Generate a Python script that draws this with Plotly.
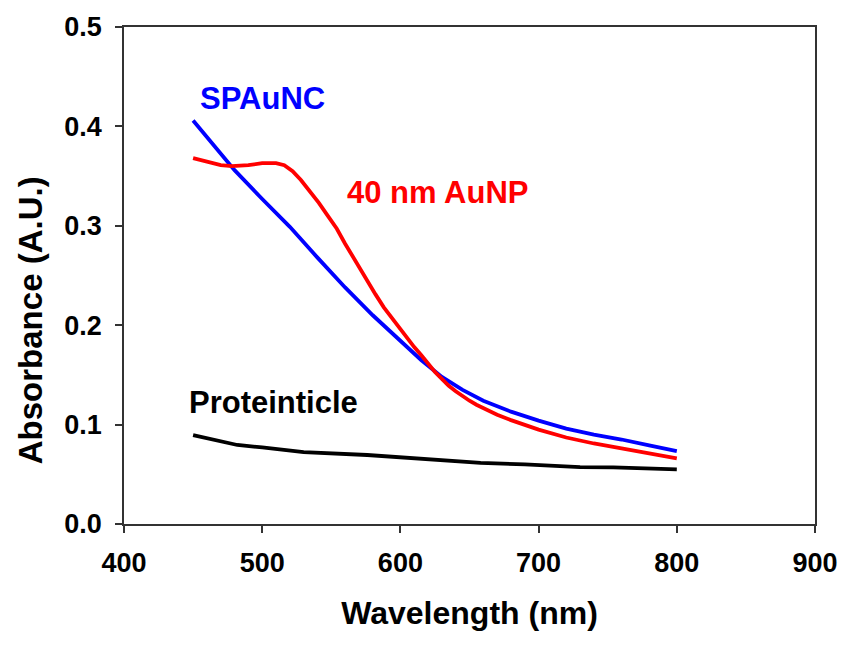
import plotly.graph_objects as go

# ---- data ----
spaunc_wl = [450, 465, 480, 500, 520, 540, 560, 580, 600, 615, 630, 645, 660, 680, 700,
             720, 740, 760, 780, 800]
spaunc_abs = [0.406, 0.381, 0.356, 0.327, 0.299, 0.268, 0.238, 0.210, 0.184, 0.165, 0.148,
              0.135, 0.124, 0.113, 0.104, 0.096, 0.090, 0.085, 0.079, 0.0734]

aunp_wl = [450, 460, 470, 478, 490, 500, 510, 516, 522, 528, 535, 541, 547, 554, 560, 565,
           570, 576, 582, 588, 595, 600, 605, 610, 615, 620, 625, 630, 635, 640, 645, 650,
           655, 660, 670, 680, 690, 700, 720, 740, 760, 780, 800]
aunp_abs = [0.368, 0.364, 0.361, 0.360, 0.361, 0.363, 0.363, 0.361, 0.355, 0.346, 0.334,
            0.323, 0.311, 0.297, 0.282, 0.270, 0.258, 0.244, 0.231, 0.218, 0.205, 0.195,
            0.186, 0.178, 0.170, 0.161, 0.153, 0.146, 0.139, 0.1335, 0.1285, 0.124, 0.120,
            0.1165, 0.110, 0.1045, 0.0995, 0.095, 0.087, 0.081, 0.076, 0.071, 0.066]

prot_wl = [450, 465, 482, 500, 530, 576, 600, 630, 658, 690, 730, 754, 788, 800]
prot_abs = [0.0895, 0.085, 0.0795, 0.077, 0.0724, 0.0694, 0.067, 0.064, 0.0614, 0.060,
            0.0573, 0.057, 0.055, 0.055]

x_ticks = [400, 500, 600, 700, 800, 900]
y_ticks = [0.0, 0.1, 0.2, 0.3, 0.4, 0.5]

labels = ["SPAuNC", "40 nm AuNP", "Proteinticle"]
label_x = [500, 627, 508]
label_y = [0.428, 0.334, 0.122]
label_colors = ["#0000ff", "#ff0000", "#000000"]

x_title = "Wavelength (nm)"
y_title = "Absorbance (A.U.)"
y_title_at = 0.205  # the reference's y title sits below the axis middle

FONT = "Liberation Sans, Arial, sans-serif"

fig = go.Figure()
fig.add_trace(go.Scatter(x=prot_wl, y=prot_abs, mode="lines",
                         line=dict(color="#000000", width=3.8),
                         name="Proteinticle", showlegend=False))
fig.add_trace(go.Scatter(x=spaunc_wl, y=spaunc_abs, mode="lines",
                         line=dict(color="#0000ff", width=3.8),
                         name="SPAuNC", showlegend=False))
fig.add_trace(go.Scatter(x=aunp_wl, y=aunp_abs, mode="lines",
                         line=dict(color="#ff0000", width=3.8),
                         name="40 nm AuNP", showlegend=False))

for t, xv, yv, c in zip(labels, label_x, label_y, label_colors):
    fig.add_annotation(x=xv, y=yv, text=t, showarrow=False, xanchor="center", yanchor="middle",
                       font=dict(family=FONT, size=31, color=c, weight="bold"))

# y-axis title as rotated text (placed lower than centre, as in the reference)
fig.add_annotation(x=0, xref="paper", y=y_title_at, yref="y", xshift=-94,
                   text=y_title, textangle=-90, showarrow=False,
                   xanchor="center", yanchor="middle",
                   font=dict(family=FONT, size=33, color="#000000", weight="bold"))

axis_common = dict(showline=True, linecolor="#333333", linewidth=1.5, mirror=True,
                   ticks="outside", ticklen=7, tickwidth=1.5, tickcolor="#333333",
                   showgrid=False, zeroline=False, automargin=False,
                   tickfont=dict(family=FONT, size=27, color="#000000", weight="bold"))

fig.update_xaxes(range=[400, 900], tickvals=x_ticks, ticktext=[str(v) for v in x_ticks],
                 title=dict(text=x_title, standoff=24,
                            font=dict(family=FONT, size=32, color="#000000", weight="bold")),
                 ticklabelstandoff=7, **axis_common)
fig.update_yaxes(range=[0, 0.5], tickvals=y_ticks, ticktext=[f"{v:.1f}" for v in y_ticks],
                 ticklabelstandoff=8, **axis_common)

fig.update_layout(width=842, height=652, margin=dict(l=124, r=27, t=27, b=128),
                  plot_bgcolor="white", paper_bgcolor="white", showlegend=False)

# remove the page's default body margin so the 842x652 figure fills the window exactly
fig.write_html("out.html", config={"displayModeBar": False},
               post_script="document.body.style.margin='0';")
